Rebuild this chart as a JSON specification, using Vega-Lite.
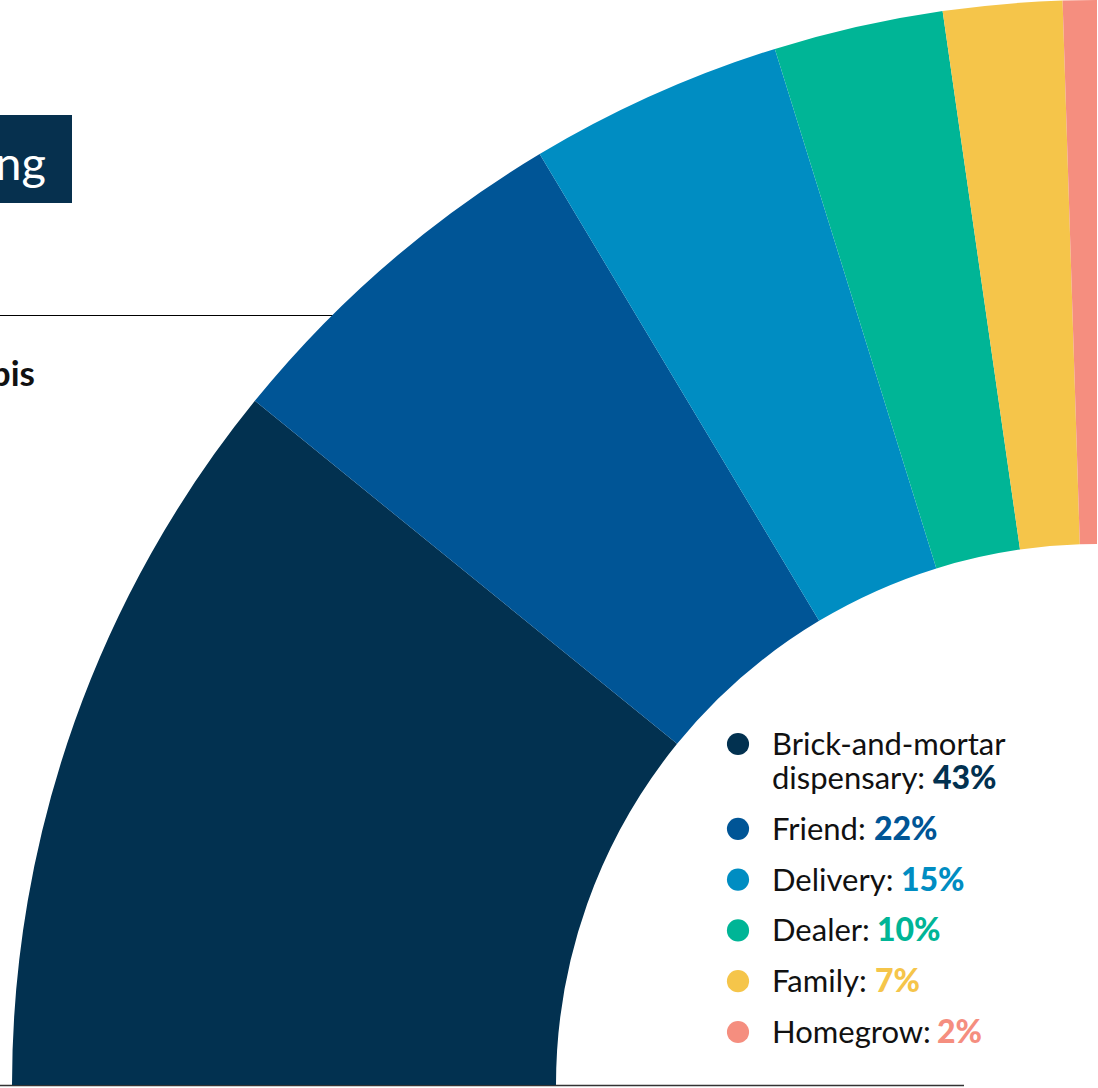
{
  "$schema": "https://vega.github.io/schema/vega-lite/v6.json",
  "width": 1098,
  "height": 1088,
  "autosize": {"type": "none"},
  "padding": 0,
  "background": "white",
  "config": {"view": {"stroke": null}},
  "datasets": {
    "sources": [
      {"cat": "Brick-and-mortar dispensary", "pct": 43},
      {"cat": "Friend", "pct": 22},
      {"cat": "Delivery", "pct": 15},
      {"cat": "Dealer", "pct": 10},
      {"cat": "Family", "pct": 7},
      {"cat": "Homegrow", "pct": 2}
    ],
    "one": [{"k": 1}]
  },
  "layer": [
    {
      "data": {"name": "one"},
      "mark": {"type": "rect", "color": "#06304e"},
      "encoding": {"x": {"value": 0}, "x2": {"value": 72}, "y": {"value": 115}, "y2": {"value": 203}}
    },
    {
      "data": {"name": "one"},
      "mark": {"type": "text", "text": "ng", "font": "Lato", "fontSize": 47, "color": "white", "align": "right", "baseline": "alphabetic"},
      "encoding": {"x": {"value": 46}, "y": {"value": 180}}
    },
    {
      "data": {"name": "one"},
      "mark": {"type": "rule", "color": "#000000", "strokeWidth": 1},
      "encoding": {"x": {"value": 0}, "x2": {"value": 420}, "y": {"value": 315.5}}
    },
    {
      "data": {"name": "one"},
      "mark": {"type": "text", "text": "bis", "font": "Lato", "fontWeight": "bold", "fontSize": 35, "color": "#111111", "align": "right", "baseline": "alphabetic"},
      "encoding": {"x": {"value": 35}, "y": {"value": 386}}
    },
    {
      "data": {"name": "one"},
      "mark": {"type": "rule", "color": "#333333", "strokeWidth": 1.5},
      "encoding": {"x": {"value": 0}, "x2": {"value": 964}, "y": {"value": 1085.5}}
    },
    {
      "data": {"name": "sources"},
      "mark": {"type": "arc", "x": 1097, "y": 1085, "outerRadius": 1085, "innerRadius": 541, "stroke": null},
      "encoding": {
        "theta": {"field": "pct", "type": "quantitative", "stack": true, "scale": {"domain": [0, 99], "range": [4.71239, 6.28319]}},
        "order": {"field": "pct", "sort": "descending"},
        "color": {"field": "cat", "type": "nominal", "legend": null, "scale": {"domain": ["Brick-and-mortar dispensary", "Friend", "Delivery", "Dealer", "Family", "Homegrow"], "range": ["#023150", "#005596", "#008dc2", "#00b596", "#f5c54a", "#f58e7f"]}}
      }
    },
    {
      "data": {"name": "sources"},
      "transform": [{"filter": "datum.cat !== 'Brick-and-mortar dispensary'"}],
      "mark": {"type": "point", "filled": true, "shape": "circle", "size": 491, "opacity": 1},
      "encoding": {
        "x": {"value": 738},
        "y": {"field": "cat", "type": "nominal", "axis": null, "scale": {"type": "point", "padding": 0, "domain": ["Brick-and-mortar dispensary", "Friend", "Delivery", "Dealer", "Family", "Homegrow"], "range": [789, 1043]}},
        "yOffset": {"value": -11},
        "color": {"field": "cat", "type": "nominal", "legend": null}
      }
    },
    {
      "data": {"name": "sources"},
      "transform": [{"filter": "datum.cat === 'Brick-and-mortar dispensary'"}],
      "mark": {"type": "point", "filled": true, "shape": "circle", "size": 491, "opacity": 1},
      "encoding": {
        "x": {"value": 738},
        "y": {"field": "cat", "type": "nominal", "axis": null, "scale": {"type": "point", "padding": 0, "domain": ["Brick-and-mortar dispensary", "Friend", "Delivery", "Dealer", "Family", "Homegrow"], "range": [789, 1043]}},
        "yOffset": {"value": -45},
        "color": {"field": "cat", "type": "nominal", "legend": null}
      }
    },
    {
      "data": {"name": "sources"},
      "mark": {"type": "text", "text": {"expr": "datum.cat + ':'"}, "lineBreak": " ", "lineHeight": 34, "dy": {"expr": "datum.cat === 'Brick-and-mortar dispensary' ? -34 : 0"}, "font": "Lato", "fontSize": 31, "color": "#111111", "align": "left", "baseline": "alphabetic"},
      "encoding": {
        "x": {"value": 772},
        "y": {"field": "cat", "type": "nominal", "axis": null, "scale": {"type": "point", "padding": 0, "domain": ["Brick-and-mortar dispensary", "Friend", "Delivery", "Dealer", "Family", "Homegrow"], "range": [789, 1043]}}
      }
    },
    {
      "data": {"name": "sources"},
      "mark": {"type": "text", "text": {"expr": "datum.pct + '%'"}, "dx": {"expr": "datum.cat === 'Brick-and-mortar dispensary' ? 161 : datum.cat === 'Friend' ? 102 : datum.cat === 'Delivery' ? 129 : datum.cat === 'Dealer' ? 105 : datum.cat === 'Family' ? 103 : 165"}, "font": "Lato", "fontWeight": 900, "fontSize": 32, "align": "left", "baseline": "alphabetic"},
      "encoding": {
        "x": {"value": 772},
        "y": {"field": "cat", "type": "nominal", "axis": null, "scale": {"type": "point", "padding": 0, "domain": ["Brick-and-mortar dispensary", "Friend", "Delivery", "Dealer", "Family", "Homegrow"], "range": [789, 1043]}},
        "color": {"field": "cat", "type": "nominal", "legend": null}
      }
    }
  ]
}
